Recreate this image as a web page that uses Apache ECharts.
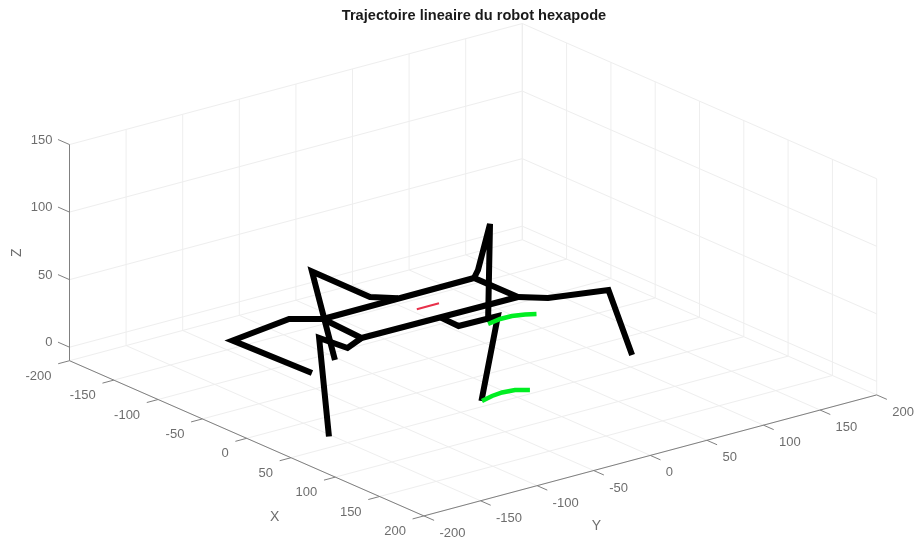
<!DOCTYPE html>
<html>
<head>
<meta charset="utf-8">
<style>html,body{margin:0;padding:0;background:#fff}#c{width:916px;height:539px}</style>
<script src="https://cdn.jsdelivr.net/npm/echarts@6/dist/echarts.min.js"></script>
</head>
<body>
<div id="c"></div>
<script>
var titleText = 'Trajectoire lineaire du robot hexapode';
var xTicks = [-200,-150,-100,-50,0,50,100,150,200];
var yTicks = [-200,-150,-100,-50,0,50,100,150,200];
var zTicks = [0,50,100,150];
var zFloor = -10;

// [x, y, z] samples of the robot
var body = [[-50.2,-93.3,40],[-51.2,40.9,40],[-2,41.2,40],[-3.3,-96,40],[-50.2,-93.3,40]];
var legL1 = [[-50.2,-93.3,40],[-64.7,-111.9,40],[-97.7,-136,20],[-55,-99.3,0]];
var legL2 = [[-51.5,-26,40],[-65.3,-40,40],[-87.7,-73.7,60],[-66,-70.4,0]];
var legL3 = [[-3.3,-96,40],[6.7,-116.2,40],[21.8,-153.1,60],[54,-169.6,0]];
var legR1 = [[-51.2,40.9,40],[-62.3,53.1,40],[-87.6,83.5,60],[-61.3,61.2,0]];
var legR2 = [[-2,-27,40],[19,-27.7,40],[63,-27.4,60],[62.3,-41.4,0]];
var legR3 = [[-2,41.2,40],[12.4,56.5,40],[68.7,65.8,60],[53.1,98.9,0]];
var footPathA = [[-58.1,58.7,0],[-61,71.6,0],[-60.7,81.8,0],[-57.5,90.9,0],[-53.4,97.8,0]];
var footPathB = [[62.5,-41.1,0],[58.8,-29.3,0],[57.5,-19.4,0],[59,-9.2,0],[65.4,-1,0]];
var bodyPath = [[-25.6,-29.7,40],[-25.7,-10,40]];

// view of the 3D box: screen position of the origin and of one data unit along each axis
function project(p) {
  return [
    473.1 + 0.886 * p[0] + 1.132 * p[1],
    364.3 + 0.388 * p[0] - 0.3025 * p[1] - 1.351 * p[2]
  ];
}

function poly(points, color, width) {
  return {
    type: 'line', data: points.map(project), symbol: 'none', silent: true,
    animation: false, clip: false, z: width > 1 ? 5 : 2,
    lineStyle: { color: color, width: width, cap: 'butt', join: 'miter', miterLimit: 3 }
  };
}

var GRID = '#eeeeee', AXIS = '#808080', TEXT = '#484848';
var xMin = xTicks[0], xMax = xTicks[xTicks.length-1];
var yMin = yTicks[0], yMax = yTicks[yTicks.length-1];
var zMax = zTicks[zTicks.length-1];
var series = [];

// floor and wall grid
xTicks.forEach(function (x) {
  series.push(poly([[x,yMin,zFloor],[x,yMax,zFloor],[x,yMax,zMax]], GRID, 1));
});
yTicks.forEach(function (y) {
  series.push(poly([[xMax,y,zFloor],[xMin,y,zFloor],[xMin,y,zMax]], GRID, 1));
});
zTicks.forEach(function (z) {
  series.push(poly([[xMin,yMin,z],[xMin,yMax,z],[xMax,yMax,z]], GRID, 1));
});

// axis lines and ticks
function axisLine(a) {
  var s = poly(a, AXIS, 1); s.z = 3; return s;
}
series.push(axisLine([[xMin,yMin,zFloor],[xMax,yMin,zFloor]]));
series.push(axisLine([[xMax,yMin,zFloor],[xMax,yMax,zFloor]]));
series.push(axisLine([[xMin,yMin,zFloor],[xMin,yMin,zMax]]));
xTicks.forEach(function (x) { series.push(axisLine([[x,yMin,zFloor],[x,yMin-10,zFloor]])); });
yTicks.forEach(function (y) { series.push(axisLine([[xMax,y,zFloor],[xMax+11.5,y,zFloor]])); });
zTicks.forEach(function (z) { series.push(axisLine([[xMin,yMin,z],[xMin-13,yMin,z]])); });

// text placed at projected anchors
function labels(points, texts, dx, dy, align, size, rotate) {
  return {
    type: 'scatter', symbolSize: 0, silent: true, animation: false, clip: false, z: 6,
    data: points.map(function (p, i) { return { value: project(p), text: texts[i] }; }),
    label: {
      show: true, position: 'inside', offset: [dx, dy], align: align, verticalAlign: 'middle',
      fontFamily: 'Liberation Sans', fontSize: size, color: TEXT, rotate: rotate || 0,
      formatter: function (q) { return q.data.text; }
    }
  };
}
series.push(labels(xTicks.map(function (x) { return [x,yMin,zFloor]; }), xTicks.map(String), -18, 15.5, 'right', 13));
series.push(labels(yTicks.map(function (y) { return [xMax,y,zFloor]; }), yTicks.map(String), 15.5, 17.5, 'left', 13));
series.push(labels(zTicks.map(function (z) { return [xMin,yMin,z]; }), zTicks.map(String), -17, -4.5, 'right', 13));
series.push(labels([[0,yMin,zFloor]], ['X'], 28, 79, 'center', 14));
series.push(labels([[xMax,0,zFloor]], ['Y'], -54, 70.5, 'center', 14));
series.push(labels([[xMin,yMin,70]], ['Z'], 0, -52.5, 'center', 14, 90));

// robot
[body, legL1, legL2, legL3, legR1, legR2, legR3].forEach(function (l) {
  series.push(poly(l, '#000000', 6));
});
series.push(poly(footPathA, '#00ee22', 4.5));
series.push(poly(footPathB, '#00ee22', 4.5));
series.push(poly(bodyPath, '#e8304a', 2));

var chart = echarts.init(document.getElementById('c'), null, { renderer: 'canvas' });
chart.setOption({
  backgroundColor: '#ffffff',
  animation: false,
  title: {
    text: titleText, left: 469, top: 3, textAlign: 'center',
    textStyle: { fontFamily: 'Liberation Sans', fontSize: 14.6, fontWeight: 'bold', color: '#1a1a1a' }
  },
  grid: { left: 0, right: 0, top: 0, bottom: 0 },
  xAxis: { type: 'value', min: 0, max: 916, show: false },
  yAxis: { type: 'value', min: 0, max: 539, inverse: true, show: false },
  series: series
});
</script>
</body>
</html>
